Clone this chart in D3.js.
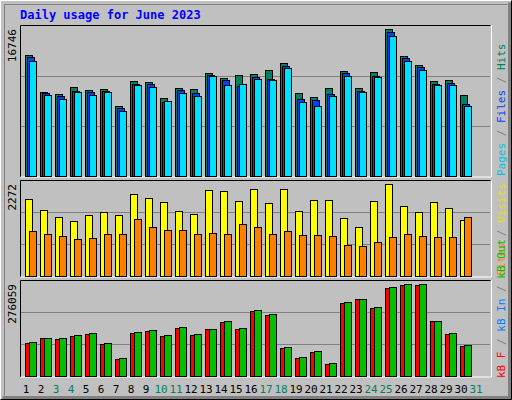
<!DOCTYPE html>
<html><head><meta charset="utf-8">
<script src="https://cdn.jsdelivr.net/npm/d3@7"></script>
<style>body{margin:0;background:#fff}text{font-family:"DejaVu Sans Mono",monospace}</style>
</head><body><div class="chart"></div>
<script>
var days = d3.range(1, 32);
var weekend = [3, 4, 10, 11, 17, 18, 24, 25, 31];
var hits = [13796,9589,9361,10157,9854,9930,7997,10877,10764,8907,10044,9930,11787,11181,11522,11635,12128,12924,9475,9020,10044,12014,10044,11901,16746,13682,12659,10877,10991,9248];
var files = [13568,9475,9096,9702,9589,9702,7770,10498,10498,8490,9816,9475,11560,10953,10271,11294,11067,12583,8793,8679,9361,11749,9702,11408,16411,13455,12431,10498,10612,8224];
var pages = [13113,9248,8793,9589,9248,9589,7428,10385,10157,8565,9475,9134,11408,10385,10498,11067,10953,12318,8452,7997,9134,11408,9589,11294,15956,13113,12090,10385,10385,7997];
var visits = [1902,1630,1457,1358,1506,1581,1506,2025,1926,1828,1605,1531,2124,2099,1852,2149,1803,2149,1605,1877,1877,1432,1210,1852,2272,1729,1581,1828,1679,1383];
var sites = [1111,1037,988,914,938,1037,1037,1408,1210,1136,1136,1037,1062,1037,1284,1210,1037,1111,1013,1013,988,766,741,840,963,1037,988,963,963,1457];
var kbF = [100750,115862,112840,121907,127952,97727,52390,130975,137020,121907,146087,124930,143065,161200,143065,194447,182357,85637,55412,73547,37277,218627,230717,203515,263965,273032,273032,164222,127952,91682];
var kbOut = [103772,115862,115862,124930,130975,100750,55412,133997,140042,124930,149110,127952,143065,164222,146087,197470,185380,88660,58435,76570,40300,221650,230717,206537,266987,276059,276059,164222,130975,94705];

var W = 512, H = 400;
var svg = d3.select('.chart').append('svg').attr('width', W).attr('height', H)
    .style('display', 'block');

// background + bevel
svg.append('rect').attr('width', W).attr('height', H).attr('fill', '#c0c0c0');
svg.append('path').attr('d', 'M0.5,399.5V0.5H511.5').attr('stroke', '#fff').attr('fill', 'none');
svg.append('path').attr('d', 'M2.5,397.5H509.5V2.5').attr('stroke', '#808080').attr('stroke-width', 3).attr('fill', 'none');
svg.append('path').attr('d', 'M4.5,395.5V4.5H507.5').attr('stroke', '#808080').attr('fill', 'none');
svg.append('path').attr('d', 'M0.5,399.5H511.5V0.5').attr('stroke', '#000').attr('fill', 'none');

svg.append('text').attr('x', 20).attr('y', 19).attr('fill', '#0000ff')
    .style('font-size', '12px').style('font-weight', 'bold').text('Daily usage for June 2023');

var x = d3.scaleBand().domain(days).range([18, 483]).paddingInner(0);  // 15px per day

var panels = [
  {top: 25, bottom: 176.5, max: 16746, label: '16746'},
  {top: 180, bottom: 276.5, max: 2272, label: '2272'},
  {top: 280, bottom: 376.5, max: 276059, label: '276059'}
];

panels.forEach(function (p) {
    var g = svg.append('g');
    g.append('rect').attr('x', 20).attr('y', p.top).attr('width', 471).attr('height', p.bottom - p.top)
        .attr('fill', '#c0c0c0');
    var h = p.bottom - p.top;
    [1, 2].forEach(function (k) {
        var yy = Math.round(p.bottom - h * k / 3) + 0.5;
        g.append('line').attr('x1', 21).attr('x2', 490).attr('y1', yy).attr('y2', yy)
            .attr('stroke', '#808080');
    });
    g.append('path').attr('d', 'M20.5,' + (p.bottom + 0.5) + 'V' + (p.top + 0.5) + 'H490.5')
        .attr('stroke', '#000').attr('fill', 'none');
    g.append('path').attr('d', 'M20.5,' + (p.bottom + 0.5) + 'H491.5V' + (p.top + 0.5))
        .attr('stroke', '#fff').attr('fill', 'none');
    g.append('text').attr('transform', 'translate(16,' + (p.top + 4) + ') rotate(-90)')
        .attr('text-anchor', 'end').style('font-size', '11px').attr('fill', '#000').text(p.label);
    p.y = d3.scaleLinear().domain([0, p.max]).range([p.bottom, p.top + 4]);
});

function bars(p, data, off, color) {
    svg.append('g').selectAll('rect').data(data).enter().append('rect')
        .attr('x', (d, i) => x(days[i]) + 7 + off + 0.5)
        .attr('y', d => Math.round(p.y(d)) + 0.5)
        .attr('width', 7)
        .attr('height', d => p.bottom - Math.round(p.y(d)) - 0.5)
        .attr('fill', color).attr('stroke', '#000');
}
bars(panels[0], hits, 0, '#00805c');
bars(panels[0], files, 2, '#0040ff');
bars(panels[0], pages, 4, '#00e0ff');
bars(panels[1], visits, 0, '#ffff00');
bars(panels[1], sites, 4, '#ff8000');
bars(panels[2], kbF, 0, '#ff0000');
bars(panels[2], kbOut, 4, '#00c000');

// day labels
svg.append('g').selectAll('text').data(days).enter().append('text')
    .attr('x', d => x(d) + x.bandwidth() / 2 + 0.5).attr('y', 393)
    .attr('text-anchor', 'middle').style('font-size', '11px')
    .attr('fill', d => weekend.indexOf(d) >= 0 ? '#00805c' : '#000').text(d => d);

// right side legends (vertical)
function legend(yBottom, parts) {
    var t = svg.append('text').attr('transform', 'translate(505,' + yBottom + ') rotate(-90)')
        .style('font-size', '11px');
    parts.forEach(function (pt) { t.append('tspan').attr('fill', pt[1]).text(pt[0]); });
}
legend(176, [['Pages', '#00c0e0'], [' / ', '#808080'], ['Files', '#0040ff'], [' / ', '#808080'], ['Hits', '#00805c']]);
legend(276, [['Sites', '#ff8000'], [' / ', '#808080'], ['Visits', '#e0e000']]);
legend(378, [['kB F', '#ff0000'], [' / ', '#808080'], ['kB In', '#0080ff'], [' / ', '#808080'], ['kB Out', '#00c000']]);
</script>
</body></html>
